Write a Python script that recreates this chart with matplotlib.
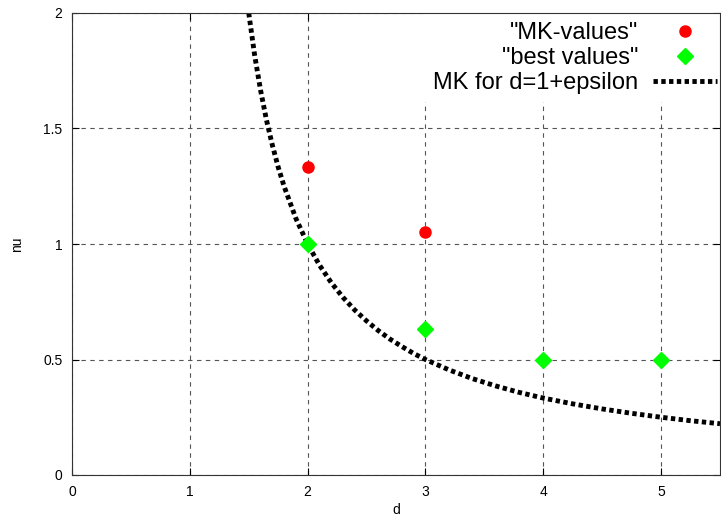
import matplotlib.pyplot as plt

plt.rcParams['font.family'] = ['Liberation Sans', 'DejaVu Sans']

# --- data
mk_d = [2, 3]
mk_nu = [1.333, 1.05]

best_d = [2, 3, 4, 5]
best_nu = [1.0, 0.633, 0.5, 0.5]

# MK curve for d=1+epsilon, read at several d
curve_d = [1.5, 1.55, 1.6, 1.65, 1.7, 1.75, 1.8, 1.9, 2.0, 2.1, 2.2, 2.3, 2.4,
           2.5, 2.6, 2.7, 2.8, 2.9, 3.0, 3.2, 3.4, 3.6, 3.8, 4.0, 4.25, 4.5,
           4.75, 5.0, 5.25, 5.5]
curve_nu = [2.0, 1.818, 1.667, 1.538, 1.429, 1.333, 1.25, 1.111, 1.0, 0.909,
            0.833, 0.769, 0.714, 0.667, 0.625, 0.588, 0.556, 0.526, 0.5, 0.455,
            0.417, 0.385, 0.357, 0.333, 0.308, 0.286, 0.267, 0.25, 0.235, 0.222]

xticks = [0, 1, 2, 3, 4, 5]
yticks = [0, 0.5, 1, 1.5, 2]

# --- plot
fig = plt.figure(figsize=(7.21, 5.16), dpi=100)
ax = fig.add_axes([72/721, 41/516, 648/721, 462/516])

ax.plot(mk_d, mk_nu, color='#ff0000', markersize=8, marker='o',
        linestyle='none', label='"MK-values"', zorder=3)
ax.plot(best_d, best_nu, 'D', color='#00ff00', markersize=8,
        label='"best values"', zorder=3)
ax.plot(curve_d, curve_nu, color='black', linewidth=3.5,
        linestyle=(0, (0.9, 0.7)), label='MK for d=1+epsilon', zorder=2)

ax.set_xlim(0, 5.5)
ax.set_ylim(0, 2)
ax.set_xticks(xticks)
ax.set_yticks(yticks)
ax.set_yticklabels(['0', '0.5', '1', '1.5', '2'])
ax.tick_params(direction='in', length=5, top=True, right=True, labelsize=10,
               pad=7)
ax.grid(True, linestyle=(0, (4, 4)), color='#555555', linewidth=0.8)

ax.set_xlabel('d', fontsize=10, labelpad=3)
ax.set_ylabel('nu', fontsize=10, labelpad=14)

for s in ax.spines.values():
    s.set_color('#333333')
    s.set_zorder(6)

# opaque key box (hides the grid like gnuplot does)
leg = ax.legend(loc='upper right', bbox_to_anchor=(1 + 5/648, 1 - 1/462),
                markerfirst=False, frameon=True, fancybox=False,
                facecolor='white', edgecolor='none', framealpha=1.0,
                fontsize=17, handlelength=2.7, handletextpad=0.64,
                borderaxespad=0.0, labelspacing=0.12, borderpad=0.35)
leg.set_zorder(5)

plt.savefig('out.png', dpi=100)
